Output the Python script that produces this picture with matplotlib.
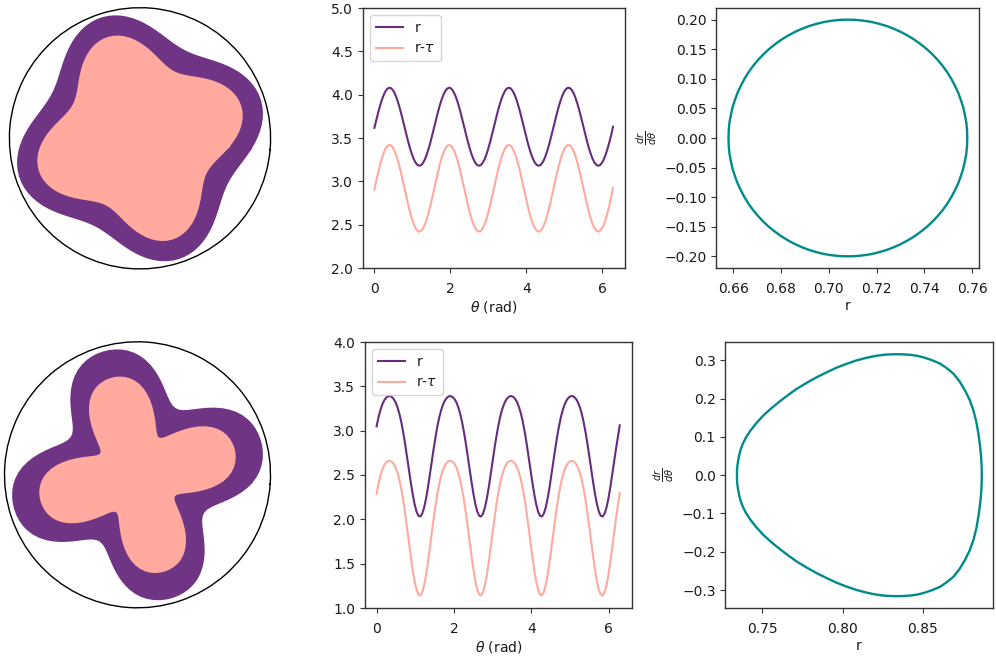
import numpy as np
import matplotlib
matplotlib.use("Agg")
import matplotlib.pyplot as plt

# Sampling angle of the r(theta) curves (129 samples over one turn)
theta = np.linspace(0, 2 * np.pi, 129)

top_r = [3.617, 3.706, 3.791, 3.870, 3.939, 3.997, 4.041, 4.069, 4.080, 4.074, 4.050, 4.011, 3.957, 3.890, 3.814, 3.730,
         3.643, 3.554, 3.469, 3.390, 3.321, 3.263, 3.219, 3.191, 3.180, 3.186, 3.210, 3.249, 3.303, 3.370, 3.446, 3.530,
         3.617, 3.706, 3.791, 3.870, 3.939, 3.997, 4.041, 4.069, 4.080, 4.074, 4.050, 4.011, 3.957, 3.890, 3.814, 3.730,
         3.643, 3.554, 3.469, 3.390, 3.321, 3.263, 3.219, 3.191, 3.180, 3.186, 3.210, 3.249, 3.303, 3.370, 3.446, 3.530,
         3.617, 3.706, 3.791, 3.870, 3.939, 3.997, 4.041, 4.069, 4.080, 4.074, 4.050, 4.011, 3.957, 3.890, 3.814, 3.730,
         3.643, 3.554, 3.469, 3.390, 3.321, 3.263, 3.219, 3.191, 3.180, 3.186, 3.210, 3.249, 3.303, 3.370, 3.446, 3.530,
         3.617, 3.706, 3.791, 3.870, 3.939, 3.997, 4.041, 4.069, 4.080, 4.074, 4.050, 4.011, 3.957, 3.890, 3.814, 3.730,
         3.643, 3.554, 3.469, 3.390, 3.321, 3.263, 3.219, 3.191, 3.180, 3.186, 3.210, 3.249, 3.303, 3.370, 3.446, 3.530,
         3.630]
top_r_tau = [2.906, 3.004, 3.098, 3.186, 3.264, 3.328, 3.376, 3.408, 3.420, 3.413, 3.387, 3.343, 3.283, 3.209, 3.124, 3.031,
             2.934, 2.836, 2.742, 2.654, 2.576, 2.512, 2.464, 2.432, 2.420, 2.427, 2.453, 2.497, 2.557, 2.631, 2.716, 2.809,
             2.906, 3.004, 3.098, 3.186, 3.264, 3.328, 3.376, 3.408, 3.420, 3.413, 3.387, 3.343, 3.283, 3.209, 3.124, 3.031,
             2.934, 2.836, 2.742, 2.654, 2.576, 2.512, 2.464, 2.432, 2.420, 2.427, 2.453, 2.497, 2.557, 2.631, 2.716, 2.809,
             2.906, 3.004, 3.098, 3.186, 3.264, 3.328, 3.376, 3.408, 3.420, 3.413, 3.387, 3.343, 3.283, 3.209, 3.124, 3.031,
             2.934, 2.836, 2.742, 2.654, 2.576, 2.512, 2.464, 2.432, 2.420, 2.427, 2.453, 2.497, 2.557, 2.631, 2.716, 2.809,
             2.906, 3.004, 3.098, 3.186, 3.264, 3.328, 3.376, 3.408, 3.420, 3.413, 3.387, 3.343, 3.283, 3.209, 3.124, 3.031,
             2.934, 2.836, 2.742, 2.654, 2.576, 2.512, 2.464, 2.432, 2.420, 2.427, 2.453, 2.497, 2.557, 2.631, 2.716, 2.809,
             2.925]
bot_r = [3.048, 3.151, 3.233, 3.296, 3.342, 3.371, 3.387, 3.390, 3.380, 3.357, 3.319, 3.264, 3.190, 3.096, 2.982, 2.852,
         2.710, 2.562, 2.417, 2.284, 2.171, 2.088, 2.040, 2.032, 2.063, 2.131, 2.231, 2.356, 2.497, 2.645, 2.791, 2.927,
         3.048, 3.151, 3.233, 3.296, 3.342, 3.371, 3.387, 3.390, 3.380, 3.357, 3.319, 3.264, 3.190, 3.096, 2.982, 2.852,
         2.710, 2.562, 2.417, 2.284, 2.171, 2.088, 2.040, 2.032, 2.063, 2.131, 2.231, 2.356, 2.497, 2.645, 2.791, 2.927,
         3.048, 3.151, 3.233, 3.296, 3.342, 3.371, 3.387, 3.390, 3.380, 3.357, 3.319, 3.264, 3.190, 3.096, 2.982, 2.852,
         2.710, 2.562, 2.417, 2.284, 2.171, 2.088, 2.040, 2.032, 2.063, 2.131, 2.231, 2.356, 2.497, 2.645, 2.791, 2.927,
         3.048, 3.151, 3.233, 3.296, 3.342, 3.371, 3.387, 3.390, 3.380, 3.357, 3.319, 3.264, 3.190, 3.096, 2.982, 2.852,
         2.710, 2.562, 2.417, 2.284, 2.171, 2.088, 2.040, 2.032, 2.063, 2.131, 2.231, 2.356, 2.497, 2.645, 2.791, 2.927,
         3.060]
bot_r_tau = [2.290, 2.403, 2.493, 2.561, 2.610, 2.641, 2.657, 2.660, 2.649, 2.625, 2.585, 2.526, 2.445, 2.342, 2.217, 2.072,
             1.912, 1.745, 1.581, 1.429, 1.301, 1.206, 1.152, 1.142, 1.177, 1.255, 1.369, 1.512, 1.671, 1.839, 2.003, 2.155,
             2.290, 2.403, 2.493, 2.561, 2.610, 2.641, 2.657, 2.660, 2.649, 2.625, 2.585, 2.526, 2.445, 2.342, 2.217, 2.072,
             1.912, 1.745, 1.581, 1.429, 1.301, 1.206, 1.152, 1.142, 1.177, 1.255, 1.369, 1.512, 1.671, 1.839, 2.003, 2.155,
             2.290, 2.403, 2.493, 2.561, 2.610, 2.641, 2.657, 2.660, 2.649, 2.625, 2.585, 2.526, 2.445, 2.342, 2.217, 2.072,
             1.912, 1.745, 1.581, 1.429, 1.301, 1.206, 1.152, 1.142, 1.177, 1.255, 1.369, 1.512, 1.671, 1.839, 2.003, 2.155,
             2.290, 2.403, 2.493, 2.561, 2.610, 2.641, 2.657, 2.660, 2.649, 2.625, 2.585, 2.526, 2.445, 2.342, 2.217, 2.072,
             1.912, 1.745, 1.581, 1.429, 1.301, 1.206, 1.152, 1.142, 1.177, 1.255, 1.369, 1.512, 1.671, 1.839, 2.003, 2.155,
             2.295]

# Upper half of each closed phase curve; the lower half mirrors it
top_phase_x_upper = [.7580, .7579, .7576, .7570, .7563, .7553, .7542, .7528, .7513, .7496, .7477, .7456, .7434,
                     .7410, .7384, .7358, .7330, .7301, .7271, .7241, .7209, .7178, .7145, .7113, .7080,
                     .7047, .7015, .6982, .6951, .6919, .6889, .6859, .6830, .6802, .6776, .6750, .6726,
                     .6704, .6683, .6664, .6647, .6632, .6618, .6607, .6597, .6590, .6584, .6581, .6580]
top_phase_y_upper = [0, .0131, .0261, .0390, .0518, .0643, .0765, .0885, .1, .1111, .1218, .1319, .1414,
                     .1504, .1587, .1663, .1732, .1794, .1848, .1894, .1932, .1962, .1983, .1996, .2,
                     .1996, .1983, .1962, .1932, .1894, .1848, .1794, .1732, .1663, .1587, .1504, .1414,
                     .1319, .1218, .1111, .1, .0885, .0765, .0643, .0518, .0390, .0261, .0131, 0]

bot_phase_x_upper = [.8868, .8867, .8864, .8857, .8847, .8834, .8816, .8793, .8764, .8730, .8692, .8652, .8608,
                     .8556, .8504, .8462, .8421, .8369, .8317, .8266, .8213, .8151, .8088, .8026, .7964,
                     .7902, .7839, .7776, .7714, .7662, .7610, .7557, .7506, .7463, .7426, .7398, .7378,
                     .7364, .7355, .7348, .7343, .7342, .7342]
bot_phase_y_upper = [0, .0226, .047, .0766, .108, .1391, .169, .1961, .221, .2447, .265, .279, .2915,
                     .3008, .308, .3122, .3145, .3159, .316, .3150, .3122, .3070, .3000, .2912, .2812,
                     .2690, .256, .2413, .2256, .2099, .1934, .1752, .156, .1362, .1167, .0988, .0819,
                     .0664, .0514, .0355, .0209, .0105, 0]

top_phase_x = top_phase_x_upper + top_phase_x_upper[::-1]
top_phase_y = top_phase_y_upper + [-v for v in top_phase_y_upper[::-1]]
bot_phase_x = bot_phase_x_upper + bot_phase_x_upper[::-1]
bot_phase_y = bot_phase_y_upper + [-v for v in bot_phase_y_upper[::-1]]

PURPLE = "#6f3584"
LINE_PURPLE = "#672c7c"
SALMON = "#ffa99f"
TEAL = "#008b8b"
DARK = "#333333"
TEXT = "#1a1a1a"

W, H = 996, 657
plt.rcParams.update({"font.size": 10, "axes.edgecolor": DARK, "axes.linewidth": 1.0,
                     "xtick.color": DARK, "ytick.color": DARK, "text.color": TEXT,
                     "xtick.labelcolor": TEXT, "ytick.labelcolor": TEXT,
                     "axes.labelcolor": TEXT, "xtick.major.pad": 6.5,
                     "axes.labelpad": 2.5, "mathtext.fontset": "dejavusans"})
fig = plt.figure(figsize=(W / 100, H / 100), dpi=100)


def box(l, t, r, b, **kw):
    return fig.add_axes([l / W, 1 - b / H, (r - l) / W, (b - t) / H], **kw)


def shape(cx, cy, rad, rmax, rot, outer, inner):
    ax = box(cx - rad, cy - rad, cx + rad, cy + rad, projection="polar")
    ax.set_theta_offset(np.radians(rot))
    ax.fill(theta, outer, color=PURPLE, lw=0)
    ax.fill(theta, inner, color=SALMON, lw=0)
    ax.set_rlim(0, rmax)
    ax.set_xticks([])
    ax.set_yticks([])
    ax.grid(False)
    ax.spines["polar"].set_color("black")
    ax.spines["polar"].set_linewidth(1.0)


def series(pos, outer, inner, ylim):
    ax = box(*pos)
    ax.plot(theta, outer, color=LINE_PURPLE, lw=1.5, label="r")
    ax.plot(theta, inner, color=SALMON, lw=1.5, label=r"r-$\tau$")
    ax.set_ylim(*ylim)
    ax.set_xlim(-0.3, 6.6)
    ax.set_xticks([0, 2, 4, 6])
    ax.set_xlabel(r"$\theta$ (rad)")
    ax.legend(loc="upper left")
    return ax


def phase(pos, x, y, xlim, ylim):
    ax = box(*pos)
    ax.plot(x, y, color=TEAL, lw=1.7, solid_joinstyle="round", solid_capstyle="butt")
    ax.set_xlim(*xlim)
    ax.set_ylim(*ylim)
    ax.set_xlabel("r")
    ax.set_ylabel(r"$\frac{dr}{d\theta}$", labelpad=4)
    return ax


shape(140, 138.3, 130.6, 4.2, -5, top_r, top_r_tau)
shape(137.5, 474.8, 133, 3.52, -4, bot_r, bot_r_tau)

series((363, 8, 625, 268), top_r, top_r_tau, (2, 5))
series((365, 342, 632, 608), bot_r, bot_r_tau, (1, 4))

a = phase((716.3, 8, 979, 268), top_phase_x, top_phase_y, (.6529, .7629), (-.2197, .2197))
a.set_xticks([.66, .68, .70, .72, .74, .76])
b = phase((725.3, 342, 992.7, 608), bot_phase_x, bot_phase_y, (.7269, .8936), (-.347, .348))
b.set_xticks([.75, .80, .85])
b.set_yticks([-.3, -.2, -.1, 0, .1, .2, .3])

fig.savefig("out.png", dpi=100)
